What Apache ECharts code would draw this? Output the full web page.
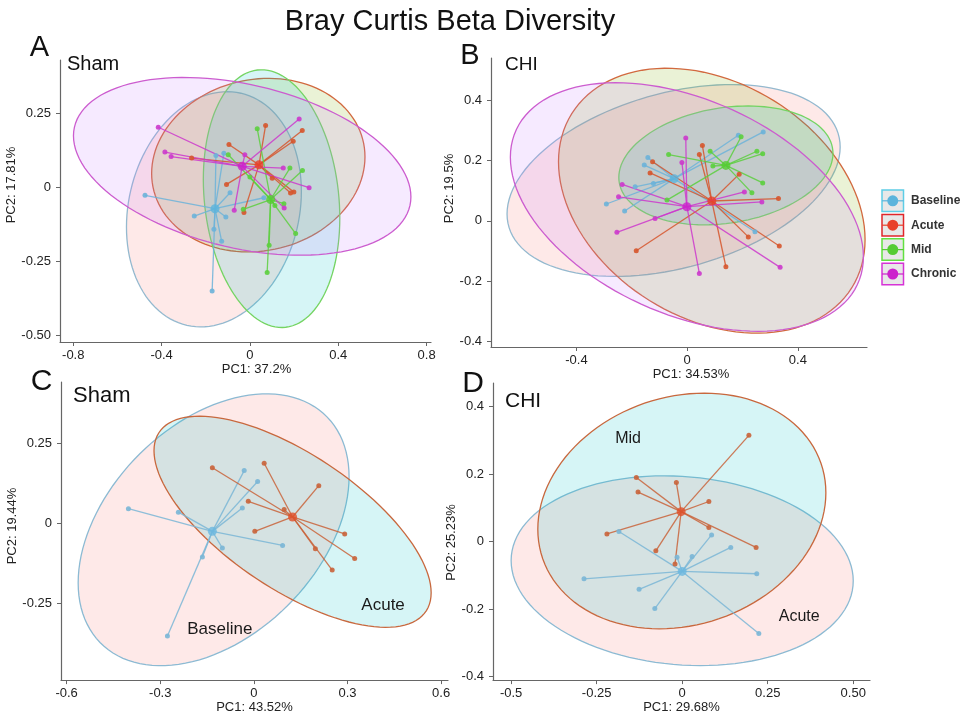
<!DOCTYPE html>
<html><head><meta charset="utf-8">
<script src="https://cdn.jsdelivr.net/npm/echarts@6/dist/echarts.min.js"></script>
<style>html,body{margin:0;padding:0;background:#fff}#c{width:967px;height:715px}</style>
</head><body><div id="c"></div>
<script>
const FONT = 'Liberation Sans, Arial, Helvetica, sans-serif';
const groups = ['Baseline', 'Acute', 'Mid', 'Chronic'];

// ---------- Panel A (Sham, 4 groups) ----------
const aXTicks = ['-0.8', '-0.4', '0', '0.4', '0.8'];
const aYTicks = ['0.25', '0', '-0.25', '-0.50'];
const aBaselinePts = [[-0.475,-0.027],[-0.252,-0.097],[-0.163,-0.141],[-0.128,-0.182],[-0.109,-0.100],[-0.090,-0.018],[-0.154,0.108],[-0.118,0.115],[0.063,-0.035],[-0.171,-0.350]];
const aAcutePts = [[0.071,0.209],[0.237,0.192],[0.196,0.156],[-0.095,0.145],[-0.264,0.099],[-0.106,0.010],[-0.027,-0.085],[0.184,-0.019],[0.199,-0.016],[0.101,0.031]];
const aMidPts = [[0.033,0.198],[-0.098,0.110],[0.000,0.035],[0.181,0.065],[0.238,0.057],[0.154,-0.055],[0.207,-0.156],[0.087,-0.195],[-0.030,-0.074],[0.113,-0.061],[0.078,-0.287]];
const aChronicPts = [[-0.415,0.203],[-0.385,0.119],[-0.357,0.104],[0.223,0.231],[-0.023,0.110],[0.151,0.065],[0.268,-0.001],[0.155,-0.070],[-0.071,-0.077]];
const aCentroids = [[-0.158,-0.072],[0.041,0.076],[0.094,-0.041],[-0.035,0.071]];
// ellipse: [cx, cy, half-width, half-height, y-offset of rightmost point]
const aEllipses = [[-0.163,-0.074,0.396,0.397,0.06],[0.038,0.075,0.483,0.293,0.028],[0.098,-0.038,0.309,0.435,-0.065],[-0.035,0.071,0.764,0.300,-0.103]];

// ---------- Panel B (CHI, 4 groups) ----------
const bXTicks = ['-0.4', '0', '0.4'];
const bYTicks = ['0.4', '0.2', '0', '-0.2', '-0.4'];
const bBaselinePts = [[-0.292,0.056],[-0.226,0.033],[-0.188,0.113],[-0.122,0.124],[-0.155,0.185],[-0.142,0.210],[0.185,0.284],[0.275,0.295],[0.245,-0.036]];
const bAcutePts = [[-0.125,0.196],[-0.134,0.159],[0.044,0.220],[0.055,0.250],[0.188,0.155],[0.330,0.074],[0.221,-0.053],[0.333,-0.083],[0.140,-0.152],[-0.184,-0.099]];
const bMidPts = [[-0.067,0.220],[0.083,0.231],[0.093,0.182],[0.195,0.279],[0.252,0.231],[0.273,0.223],[0.273,0.126],[0.234,0.093],[-0.073,0.069]];
const bChronicPts = [[-0.005,0.275],[-0.019,0.194],[-0.235,0.121],[-0.248,0.080],[-0.254,-0.038],[-0.116,0.008],[0.044,-0.174],[0.336,-0.154],[0.270,0.063],[0.207,0.096]];
const bCentroids = [[-0.047,0.140],[0.089,0.066],[0.140,0.184],[-0.001,0.047]];
const bEllipses = [[-0.049,0.134,0.602,0.318,0.111],[0.089,0.067,0.554,0.439,-0.129],[0.140,0.184,0.387,0.197,0.04],[-0.001,0.046,0.638,0.412,-0.165]];

// ---------- Panel C (Sham, Baseline vs Acute) ----------
const cXTicks = ['-0.6', '-0.3', '0', '0.3', '0.6'];
const cYTicks = ['0.25', '0', '-0.25'];
const cGroups = ['Baseline', 'Acute'];
const cBaselinePts = [[-0.402,0.047],[-0.242,0.036],[-0.031,0.166],[0.012,0.132],[-0.037,0.049],[0.092,-0.068],[-0.101,-0.076],[-0.165,-0.104],[-0.277,-0.351]];
const cAcutePts = [[-0.133,0.175],[0.033,0.189],[0.208,0.119],[-0.018,0.070],[0.097,0.044],[0.003,-0.024],[0.291,-0.032],[0.323,-0.109],[0.197,-0.078],[0.251,-0.145]];
const cCentroids = [[-0.133,-0.024],[0.124,0.021]];
const cEllipses = [[-0.129,-0.019,0.434,0.425,0.166],[0.124,0.006,0.444,0.330,-0.222]];
const cLabelPos = [[-0.109,-0.330],[0.414,-0.255]];

// ---------- Panel D (CHI, Acute vs Mid) ----------
const dXTicks = ['-0.5', '-0.25', '0', '0.25', '0.50'];
const dYTicks = ['0.4', '0.2', '0', '-0.2', '-0.4'];
const dGroups = ['Acute', 'Mid'];
const dAcutePts = [[-0.185,0.030],[0.086,0.020],[0.142,-0.017],[0.029,-0.044],[-0.015,-0.046],[-0.287,-0.110],[-0.126,-0.141],[-0.080,-0.198],[0.218,-0.095],[0.224,-0.272]];
const dMidPts = [[0.195,0.315],[-0.134,0.190],[-0.017,0.175],[-0.129,0.147],[0.078,0.119],[0.078,0.042],[-0.220,0.023],[0.216,-0.017],[-0.077,-0.027],[-0.021,-0.066]];
const dCentroids = [[0.000,-0.088],[-0.003,0.089]];
const dEllipses = [[0.000,-0.086,0.500,0.281,-0.03],[-0.001,0.091,0.421,0.349,0.054]];
const dLabelPos = [[0.342,-0.223],[-0.158,0.305]];

// ---------- styles ----------
const hue4 = ['#F8766D', '#7CAE00', '#00BFC4', '#C77CFF'];
const hue2 = ['#F8766D', '#00BFC4'];
const col4 = ['#6cb3d9', '#d6552c', '#5ccf3e', '#cc38cc'];
const stroke4 = ['#94b9cf', '#d2693f', '#74d462', '#cc5ccf'];
const legendBox = ['#5ecde6', '#e0262a', '#62e040', '#d633d6'];
const legendDot = ['#5bb4dc', '#e8402a', '#55cc33', '#cc22cc'];
const col2 = ['#7ab6d6', '#c9633a'];
const cen2 = ['#6cb8e0', '#e0502a'];
const stroke2 = ['#8cbad3', '#c8683e'];
const FILL_ALPHA = 0.16;

function rgba(hex, a) {
  const n = parseInt(hex.slice(1), 16);
  return 'rgba(' + (n >> 16 & 255) + ',' + (n >> 8 & 255) + ',' + (n & 255) + ',' + a + ')';
}

const grids = [], xAxes = [], yAxes = [], series = [];

function axisCommon(labels) {
  const vals = labels.map(parseFloat);
  return {
    axisLine: { show: true, onZero: false, lineStyle: { color: '#666', width: 1.2 } },
    axisTick: { show: true, length: 4, customValues: vals, lineStyle: { color: '#666' } },
    axisLabel: {
      customValues: vals, fontSize: 13, color: '#222', fontFamily: FONT,
      formatter: v => { const i = vals.findIndex(x => Math.abs(x - v) < 1e-9); return i >= 0 ? labels[i] : ''; }
    },
    splitLine: { show: false }
  };
}

function addPanel(p) {
  const gi = grids.length;
  grids.push(p.grid);
  xAxes.push(Object.assign(axisCommon(p.xt), {
    type: 'value', gridIndex: gi, min: p.xr[0], max: p.xr[1],
    name: p.xname, nameLocation: 'middle', nameGap: p.xGap,
    nameTextStyle: { fontSize: 13, color: '#222', fontFamily: FONT, padding: p.xPad }
  }));
  xAxes[gi].axisLabel.margin = 7;
  yAxes.push(Object.assign(axisCommon(p.yt), {
    type: 'value', gridIndex: gi, min: p.yr[0], max: p.yr[1],
    name: p.yname, nameLocation: 'middle', nameGap: 33,
    nameTextStyle: { fontSize: 13, color: '#222', fontFamily: FONT, padding: p.yPad }
  }));
  yAxes[gi].axisLabel.margin = 9;

  p.groups.forEach(g => {
    series.push({
      type: 'custom', xAxisIndex: gi, yAxisIndex: gi, silent: true, clip: false,
      encode: { x: 0, y: 1 }, data: [g.ellipse],
      renderItem: (params, api) => {
        const cx = api.value(0), cy = api.value(1), W = api.value(2), H = api.value(3), k = api.value(4);
        const s = Math.sqrt(Math.max(H * H - k * k, 0));
        const pts = [];
        for (let i = 0; i < 120; i++) {
          const t = i / 120 * 2 * Math.PI;
          pts.push(api.coord([cx + W * Math.cos(t), cy + k * Math.cos(t) + s * Math.sin(t)]));
        }
        return { type: 'polygon', shape: { points: pts }, style: { fill: rgba(g.fill, FILL_ALPHA), stroke: g.stroke, lineWidth: 1.3 } };
      }
    });
  });
  p.groups.forEach(g => {
    series.push({
      type: 'lines', coordinateSystem: 'cartesian2d', xAxisIndex: gi, yAxisIndex: gi, silent: true,
      data: g.pts.map(pt => ({ coords: [g.centroid, pt] })),
      lineStyle: { color: g.line, width: 1.3, opacity: 0.85 }
    });
  });
  p.groups.forEach(g => {
    series.push({
      type: 'scatter', xAxisIndex: gi, yAxisIndex: gi, silent: true, symbolSize: 5,
      data: g.pts, itemStyle: { color: g.color, opacity: 0.9 }
    });
  });
  p.groups.forEach(g => {
    series.push({
      type: 'scatter', xAxisIndex: gi, yAxisIndex: gi, silent: true, symbolSize: 9,
      data: [g.centroid], itemStyle: { color: g.cen }
    });
  });
  if (p.texts) {
    series.push({
      type: 'custom', xAxisIndex: gi, yAxisIndex: gi, silent: true, clip: false,
      encode: { x: 0, y: 1 }, data: p.texts.map(t => [t.pos[0], t.pos[1], t.name]),
      renderItem: (params, api) => {
        const c = api.coord([api.value(0), api.value(1)]);
        return { type: 'text', x: c[0], y: c[1], style: { text: p.texts[params.dataIndex].name, fontSize: p.textSize, fontFamily: FONT, fill: '#1a1a1a', align: 'center', verticalAlign: 'middle' } };
      }
    });
  }
}

addPanel({
  grid: { left: 60, top: 60, width: 371, height: 282 },
  xr: [-0.86, 0.82], yr: [-0.522, 0.43], xt: aXTicks, yt: aYTicks,
  xname: 'PC1: 37.2%', yname: 'PC2: 17.81%', xGap: 19, xPad: [0, 0, 0, 22], yPad: [0, 0, 0, 32],
  groups: [aBaselinePts, aAcutePts, aMidPts, aChronicPts].map((pts, i) => ({
    name: groups[i], pts: pts, centroid: aCentroids[i], ellipse: aEllipses[i],
    fill: hue4[i], stroke: stroke4[i], color: col4[i], line: col4[i], cen: legendDot[i]
  }))
});
addPanel({
  grid: { left: 491, top: 58, width: 376, height: 289 },
  xr: [-0.709, 0.65], yr: [-0.418, 0.54], xt: bXTicks, yt: bYTicks,
  xname: 'PC1: 34.53%', yname: 'PC2: 19.5%', xGap: 19, xPad: [0, 0, 0, 24], yPad: [0, 0, 0, 28],
  groups: [bBaselinePts, bAcutePts, bMidPts, bChronicPts].map((pts, i) => ({
    name: groups[i], pts: pts, centroid: bCentroids[i], ellipse: bEllipses[i],
    fill: hue4[i], stroke: stroke4[i], color: col4[i], line: col4[i], cen: legendDot[i]
  }))
});
addPanel({
  grid: { left: 61, top: 382, width: 387, height: 299 },
  xr: [-0.618, 0.622], yr: [-0.489, 0.443], xt: cXTicks, yt: cYTicks,
  xname: 'PC1: 43.52%', yname: 'PC2: 19.44%', xGap: 19, xPad: [0, 0, 0, 0], yPad: [0, 0, 0, 10],
  groups: [cBaselinePts, cAcutePts].map((pts, i) => ({
    name: cGroups[i], pts: pts, centroid: cCentroids[i], ellipse: cEllipses[i],
    fill: hue2[i], stroke: stroke2[i], color: col2[i], line: col2[i], cen: cen2[i]
  })),
  texts: cGroups.map((n, i) => ({ name: n, pos: cLabelPos[i] })), textSize: 17
});
addPanel({
  grid: { left: 493, top: 383, width: 377, height: 299 },
  xr: [-0.553, 0.549], yr: [-0.41, 0.47], xt: dXTicks, yt: dYTicks,
  xname: 'PC1: 29.68%', yname: 'PC2: 25.23%', xGap: 17, xPad: [0, 0, 0, 0], yPad: [0, 22, 0, 0],
  groups: [dAcutePts, dMidPts].map((pts, i) => ({
    name: dGroups[i], pts: pts, centroid: dCentroids[i], ellipse: dEllipses[i],
    fill: hue2[i], stroke: stroke2[i], color: col2[i], line: col2[i], cen: cen2[i]
  })),
  texts: dGroups.map((n, i) => ({ name: n, pos: dLabelPos[i] })), textSize: 16
});

// ---------- graphic texts and legend ----------
const panelLetters = [['A', 39.5, 47.5, 29], ['B', 470, 56, 29], ['C', 41.7, 381.5, 30], ['D', 473, 384, 30]];
const panelTitles = [['Sham', 67, 64.5, 20], ['CHI', 505, 64.5, 19], ['Sham', 73, 396, 22], ['CHI', 505, 401, 21]];
const graphic = [];
graphic.push({ type: 'text', x: 450, y: 22, style: { text: 'Bray Curtis Beta Diversity', fontSize: 29, fontFamily: FONT, fill: '#111', align: 'center', verticalAlign: 'middle' } });
panelLetters.forEach(l => graphic.push({ type: 'text', x: l[1], y: l[2], style: { text: l[0], fontSize: l[3], fontFamily: FONT, fill: '#111', align: 'center', verticalAlign: 'middle' } }));
panelTitles.forEach(l => graphic.push({ type: 'text', x: l[1], y: l[2], style: { text: l[0], fontSize: l[3], fontFamily: FONT, fill: '#111', align: 'left', verticalAlign: 'middle' } }));
groups.forEach((g, i) => {
  const cy = 200.8 + i * 24.4, x0 = 882, sz = 21.5;
  graphic.push({ type: 'rect', shape: { x: x0, y: cy - sz / 2, width: sz, height: sz }, style: { fill: '#e8e8e8', stroke: legendBox[i], lineWidth: 1.5 } });
  graphic.push({ type: 'line', shape: { x1: x0, y1: cy, x2: x0 + sz, y2: cy }, style: { stroke: legendDot[i], lineWidth: 1.2 } });
  graphic.push({ type: 'circle', shape: { cx: x0 + sz / 2, cy: cy, r: 5.5 }, style: { fill: legendDot[i] } });
  graphic.push({ type: 'text', x: 911, y: cy, style: { text: g, fontSize: 12, fontWeight: 'bold', fontFamily: FONT, fill: '#333', align: 'left', verticalAlign: 'middle' } });
});

const chart = echarts.init(document.getElementById('c'), null, { renderer: 'canvas' });
chart.setOption({
  animation: false,
  backgroundColor: '#fff',
  grid: grids, xAxis: xAxes, yAxis: yAxes, series: series, graphic: graphic
});
</script></body></html>
